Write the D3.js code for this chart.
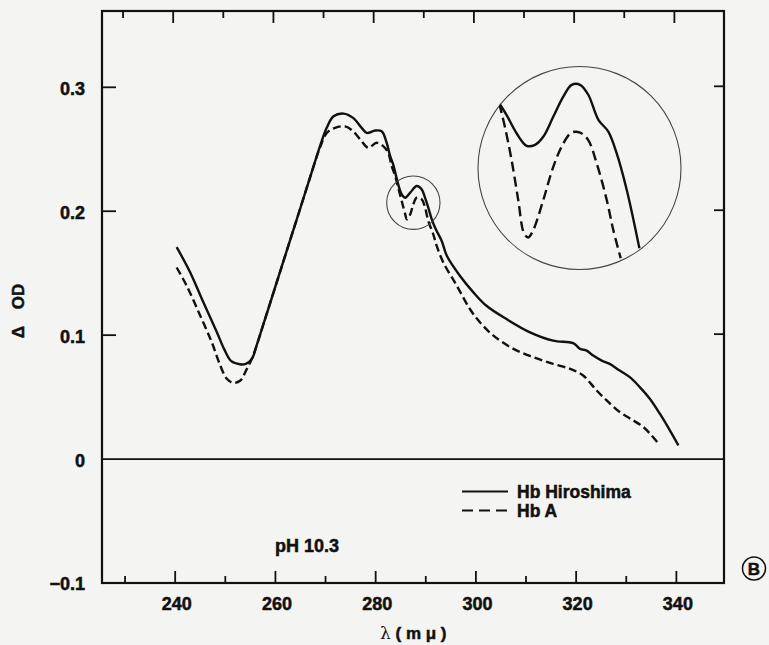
<!DOCTYPE html>
<html>
<head>
<meta charset="utf-8">
<script src="https://cdn.jsdelivr.net/npm/d3@7"></script>
<style>
  html, body { margin: 0; padding: 0; background: #f4f4f3; }
  svg { display: block; }
  .lbl {
    font-family: "Liberation Sans", Arial, Helvetica, sans-serif;
    font-weight: bold;
    fill: #111;
    stroke: #111;
    stroke-width: 0.5px;
  }
</style>
</head>
<body>
<div id="chart"></div>
<script>
/* =======================================================================
   Difference spectra, Hb Hiroshima vs Hb A (pH 10.3)
   ======================================================================= */

/* Data
======================================================================= */
// [wavelength (m mu), delta OD]
var hiroshima = [
  [240.3, 0.171], [243.0, 0.1506], [245.6, 0.1267], [248.3, 0.1026], [249.8, 0.0885],
  [251.2, 0.0790], [252.9, 0.0765], [254.1, 0.0769], [255.3, 0.0809], [256.35, 0.0929],
  [257.6, 0.1088], [258.9, 0.1253], [260.3, 0.1431], [261.9, 0.1635], [263.3, 0.1813],
  [264.9, 0.2016], [266.9, 0.2271], [268.9, 0.2525], [270.25, 0.2675],
  [271.6, 0.2766], [273.6, 0.2788], [275.5, 0.2753], [277.2, 0.2673], [278.2, 0.2632],
  [279.9, 0.2651], [281.2, 0.2645], [282.2, 0.2552], [282.9, 0.2444], [283.5, 0.2377],
  [284.5, 0.2216], [285.2, 0.2136], [285.9, 0.2109], [286.9, 0.215], [288.2, 0.2203],
  [289.2, 0.2176], [289.85, 0.2109], [290.5, 0.2029], [291.2, 0.1935], [292.0, 0.1855],
  [293.2, 0.1758], [294.2, 0.164], [296.8, 0.1479], [299.5, 0.1345], [302.1, 0.1237],
  [306.1, 0.113], [310.8, 0.1023], [315.4, 0.0956], [319.4, 0.0935], [320.8, 0.0889],
  [322.1, 0.0875], [323.4, 0.0835], [325.1, 0.0795], [326.7, 0.0768], [328.7, 0.0714],
  [330.7, 0.0661], [332.7, 0.0581], [334.7, 0.0487], [336.7, 0.0366], [338.7, 0.0232],
  [340.4, 0.0111]
];

var hbA = [
  [240.3, 0.1546], [242.3, 0.1398], [245.0, 0.1157], [247.3, 0.0943], [249.0, 0.0755],
  [250.3, 0.0648], [251.6, 0.0615], [253.0, 0.0634], [254.3, 0.0728], [255.3, 0.0809],
  [256.35, 0.0929], [257.6, 0.1088], [258.9, 0.1253], [260.3, 0.1431], [261.9, 0.1635],
  [263.3, 0.1813], [264.9, 0.2016], [266.9, 0.2271], [268.9, 0.2515],
  [270.25, 0.2632], [271.9, 0.2673], [273.9, 0.2685], [275.5, 0.2645], [277.2, 0.2565],
  [278.5, 0.2512], [280.2, 0.2552], [281.5, 0.2525], [282.5, 0.2471], [283.2, 0.2364],
  [283.9, 0.2283], [284.5, 0.219], [285.2, 0.2082], [285.9, 0.1975], [286.2, 0.1935],
  [286.9, 0.1975], [287.5, 0.2055], [288.2, 0.2109], [289.2, 0.2096], [289.85, 0.2029],
  [290.5, 0.1921], [291.5, 0.1814], [292.2, 0.1718], [293.5, 0.1587], [296.2, 0.1398],
  [298.8, 0.1211], [300.8, 0.1104], [303.5, 0.0996], [307.5, 0.0889], [311.45, 0.0822],
  [315.4, 0.0768], [318.8, 0.0728], [321.4, 0.0674], [324.1, 0.0553], [326.1, 0.0473],
  [328.7, 0.038], [331.4, 0.0312], [333.4, 0.0259], [335.05, 0.0191], [336.7, 0.0111]
];

// Magnified view of the 283-292 region (same units, drawn in the big circle)
var insetHiroshima = [
  [283.31, 0.2206], [283.7, 0.2181], [284.23, 0.2142], [284.75, 0.2116], [285.19, 0.2118],
  [285.62, 0.2135], [286.15, 0.2178], [286.67, 0.222], [287.11, 0.2245], [287.55, 0.2245],
  [287.98, 0.2224], [288.51, 0.2171], [289.03, 0.2146], [289.47, 0.21], [290.0, 0.2022],
  [290.66, 0.1899]
];

var insetHbA = [
  [283.31, 0.2206], [283.61, 0.2156], [283.96, 0.2086], [284.31, 0.2001], [284.61, 0.1931],
  [284.83, 0.1922], [285.1, 0.1938], [285.62, 0.2001], [286.15, 0.2072], [286.67, 0.2121],
  [287.11, 0.2144], [287.55, 0.2144], [287.98, 0.2128], [288.42, 0.2079], [288.95, 0.2001],
  [289.29, 0.1938], [289.68, 0.1878]
];

var xMajorTicks = [240, 260, 280, 300, 320, 340],
    xMinorTicks = [230, 250, 270, 290, 310, 330],
    yTickValues = [0.3, 0.2, 0.1, 0, -0.1],
    yTickLabels = ['0.3', '0.2', '0.1', '0', '\u22120.1'],
    yInnerTicks = [0.3, 0.2, 0.1],
    legendNames = ['Hb Hiroshima', 'Hb A'],
    zoomCenter = [287.52, 0.2069], // centre of the small circle (data units)
    zoomHalf = [5.32, 0.02148];    // small circle half-size (data units)

/* Layout
======================================================================= */
var W = 769, H = 645,
    frame = { left: 102, top: 11, right: 724, bottom: 583 },
    big = { cx: 579.5, cy: 168, r: 101.5 }; // magnifier circle

var x = d3.scaleLinear().domain([225.4, 349.5]).range([frame.left, frame.right]),
    y = d3.scaleLinear().domain([-0.1, 0.3]).range([frame.bottom, 87.3]);

// inset scales map the small circle onto the big one
var xIn = d3.scaleLinear()
      .domain([zoomCenter[0] - zoomHalf[0], zoomCenter[0] + zoomHalf[0]])
      .range([big.cx - big.r, big.cx + big.r]),
    yIn = d3.scaleLinear()
      .domain([zoomCenter[1] - zoomHalf[1], zoomCenter[1] + zoomHalf[1]])
      .range([big.cy + big.r, big.cy - big.r]);

var svg = d3.select('#chart').append('svg')
    .attr('width', W)
    .attr('height', H);

/* Frame, ticks, zero line
======================================================================= */
svg.append('rect')
    .attr('x', frame.left).attr('y', frame.top)
    .attr('width', frame.right - frame.left)
    .attr('height', frame.bottom - frame.top)
    .attr('fill', 'none')
    .attr('stroke', '#111')
    .attr('stroke-width', 2.2);

svg.append('line')
    .attr('x1', frame.left).attr('x2', frame.right)
    .attr('y1', y(0)).attr('y2', y(0))
    .attr('stroke', '#111').attr('stroke-width', 1.6);

function xTicks(values, len) {
  // bottom (upward) and top (downward) tick marks
  svg.selectAll(null).data(values).enter().append('line')
      .attr('x1', x).attr('x2', x)
      .attr('y1', frame.bottom).attr('y2', frame.bottom - len)
      .attr('stroke', '#111').attr('stroke-width', 1.8);
  svg.selectAll(null).data(values).enter().append('line')
      .attr('x1', function(d) { return x(d) - 2; }).attr('x2', function(d) { return x(d) - 2; })
      .attr('y1', frame.top).attr('y2', frame.top + len)
      .attr('stroke', '#111').attr('stroke-width', 1.8);
}
xTicks(xMajorTicks, 12);
xTicks(xMinorTicks, 7);

svg.selectAll(null).data(yInnerTicks).enter().append('line')
    .attr('x1', frame.left).attr('x2', frame.left + 14)
    .attr('y1', y).attr('y2', y)
    .attr('stroke', '#111').attr('stroke-width', 1.8);

svg.selectAll(null).data(yInnerTicks).enter().append('line')
    .attr('x1', frame.right).attr('x2', frame.right - 10)
    .attr('y1', function(d) { return y(d) - 1; }).attr('y2', function(d) { return y(d) - 1; })
    .attr('stroke', '#111').attr('stroke-width', 1.8);

/* Tick labels and titles
======================================================================= */
svg.selectAll(null).data(xMajorTicks).enter().append('text')
    .attr('class', 'lbl')
    .attr('x', function(d) { return x(d) + 1.5; })
    .attr('y', 610)
    .attr('text-anchor', 'middle')
    .style('font-size', '18px')
    .text(function(d) { return d; });

svg.selectAll(null).data(yTickValues).enter().append('text')
    .attr('class', 'lbl')
    .attr('x', 85)
    .attr('y', function(d) { return y(d) + 1; })
    .attr('dy', '0.36em')
    .attr('text-anchor', 'end')
    .style('font-size', '18px')
    .text(function(d, i) { return yTickLabels[i]; });

svg.append('text')
    .attr('class', 'lbl')
    .attr('transform', 'translate(23.5,311) rotate(-90)')
    .attr('text-anchor', 'middle')
    .style('font-size', '17px')
    .text('\u0394\u2003OD');

var xTitle = svg.append('text')
    .attr('class', 'lbl')
    .attr('x', 380).attr('y', 639)
    .style('font-size', '17px');
xTitle.append('tspan').style('font-weight', 'normal').style('stroke-width', 0)
    .style('font-family', '"DejaVu Serif", serif').text('\u03bb');
xTitle.append('tspan').text(' ( m \u03bc )');

svg.append('text')
    .attr('class', 'lbl')
    .attr('x', 275).attr('y', 552)
    .style('font-size', '18px')
    .text('pH 10.3');

/* Curves
======================================================================= */
var line = d3.line()
    .x(function(d) { return x(d[0]); })
    .y(function(d) { return y(d[1]); })
    .curve(d3.curveCatmullRom.alpha(0.5));

svg.append('path').datum(hiroshima)
    .attr('d', line)
    .attr('fill', 'none').attr('stroke', '#111').attr('stroke-width', 2.4);

svg.append('path').datum(hbA)
    .attr('d', line)
    .attr('fill', 'none').attr('stroke', '#111').attr('stroke-width', 2.4)
    .attr('stroke-dasharray', '8,4');

/* Magnifier
======================================================================= */
svg.append('circle')
    .attr('cx', x(zoomCenter[0])).attr('cy', y(zoomCenter[1]))
    .attr('r', x(zoomCenter[0] + zoomHalf[0]) - x(zoomCenter[0]))
    .attr('fill', 'none').attr('stroke', '#444').attr('stroke-width', 1.1);

svg.append('clipPath').attr('id', 'lens')
  .append('circle')
    .attr('cx', big.cx).attr('cy', big.cy).attr('r', big.r);

svg.append('circle')
    .attr('cx', big.cx).attr('cy', big.cy).attr('r', big.r)
    .attr('fill', 'none').attr('stroke', '#444').attr('stroke-width', 1.1);

var insetLine = d3.line()
    .x(function(d) { return xIn(d[0]); })
    .y(function(d) { return yIn(d[1]); })
    .curve(d3.curveCatmullRom.alpha(0.5));

var lens = svg.append('g').attr('clip-path', 'url(#lens)');

lens.append('path').datum(insetHiroshima)
    .attr('d', insetLine)
    .attr('fill', 'none').attr('stroke', '#111').attr('stroke-width', 2.4);

lens.append('path').datum(insetHbA)
    .attr('d', insetLine)
    .attr('fill', 'none').attr('stroke', '#111').attr('stroke-width', 2.4)
    .attr('stroke-dasharray', '10,5');

/* Legend
======================================================================= */
var legend = svg.selectAll(null).data(legendNames).enter().append('g')
    .attr('transform', function(d, i) { return 'translate(462,' + (491.5 + i * 19) + ')'; });

legend.append('line')
    .attr('x1', 0).attr('x2', 46)
    .attr('stroke', '#111').attr('stroke-width', 2)
    .attr('stroke-dasharray', function(d, i) { return i ? '11,6' : null; });

legend.append('text')
    .attr('class', 'lbl')
    .attr('x', 55).attr('y', 6.5)
    .style('font-size', '17.5px')
    .text(function(d) { return d; });

/* Panel letter
======================================================================= */
svg.append('circle')
    .attr('cx', 754).attr('cy', 568.5).attr('r', 11.5)
    .attr('fill', 'none').attr('stroke', '#111').attr('stroke-width', 1.5);

svg.append('text')
    .attr('class', 'lbl')
    .attr('x', 754).attr('y', 568.5)
    .attr('dy', '0.36em')
    .attr('text-anchor', 'middle')
    .style('font-size', '17px')
    .text('B');
</script>
</body>
</html>
